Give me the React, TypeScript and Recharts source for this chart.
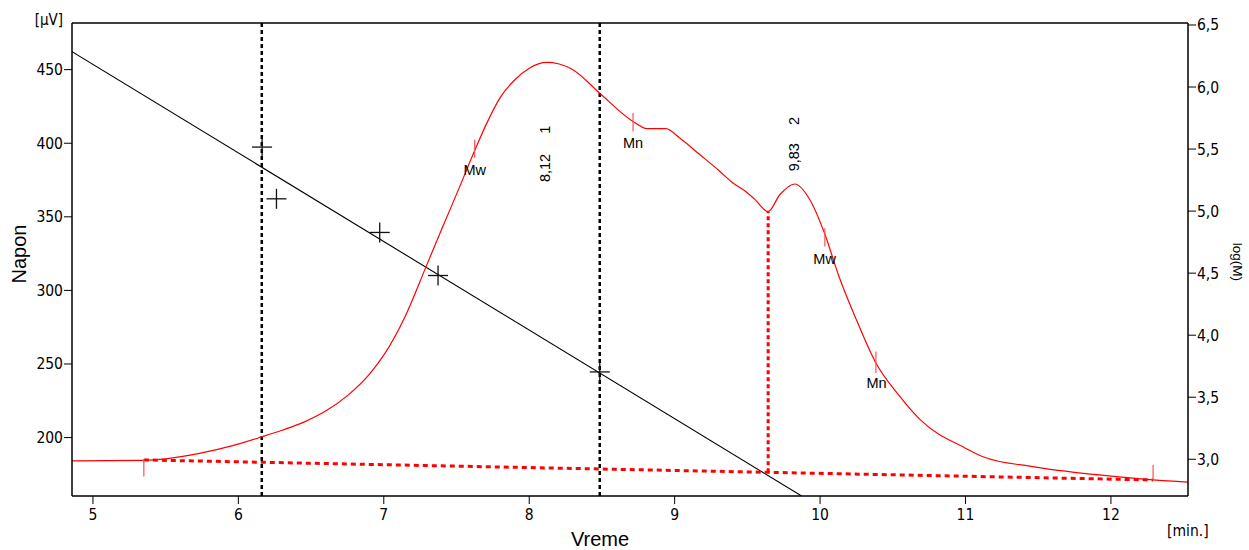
import React from 'react';
import {
  ComposedChart,
  Line,
  Scatter,
  XAxis,
  YAxis,
  ReferenceLine,
  Label,
} from 'recharts';

// axis ticks
const timeTicks = [5, 6, 7, 8, 9, 10, 11, 12];
const voltTicks = [200, 250, 300, 350, 400, 450];
const logTicks = [3, 3.5, 4, 4.5, 5, 5.5, 6, 6.5];

// detector signal [min.] -> [µV]
const signalTime = [
  4.856, 5.35, 5.5, 5.74, 5.96, 6.16, 6.3, 6.45, 6.6, 6.75, 6.9, 7.0, 7.15, 7.29, 7.4, 7.52,
  7.625, 7.71, 7.8, 7.9, 8.0, 8.12, 8.2, 8.3, 8.485, 8.714, 8.81, 8.94, 9.035, 9.17, 9.31, 9.4,
  9.47, 9.55, 9.643, 9.723, 9.826, 9.93, 10.03, 10.13, 10.25, 10.38, 10.54, 10.69, 11.0,
  11.12, 11.46, 11.92, 12.29, 12.53,
];
const signalVolt = [
  184.2, 184.5, 185.5, 189.4, 194.5, 200.5, 205, 210.5, 218, 228.5, 243, 256, 283, 316, 342,
  370, 395, 414, 431, 443, 451, 455, 454, 450, 434, 414.8, 409.9, 409.9, 403.5, 392.5, 381,
  373, 368.5, 362, 353.6, 365, 372.3, 361.6, 339, 309.5, 280, 251.4, 229, 212, 192.8, 187,
  180.3, 174.6, 171.2, 169.7,
];

// calibration points and fit (log M)
const calTime = [6.163, 6.262, 6.972, 7.373, 8.485];
const calLogM = [5.516, 5.099, 4.828, 4.481, 3.704];
const fitTime = [4.856, 9.873];
const fitLogM = [6.285, 2.704];

// baseline and integration limits
const baseTime = [5.35, 12.29];
const baseVolt = [184.8, 171.2];
const limitTimes = [6.161, 8.485];
const splitTime = 9.643;
const splitVolt = [176.4, 353.6];

// small red marks on the trace
const markTime = [5.35, 7.625, 8.714, 10.033, 10.384, 12.29];
const markTop = [185.2, 402.3, 420.5, 342.3, 258.5, 181.4];
const markBottom = [173.6, 390.1, 408, 329.8, 243.8, 171.2];

// Mw / Mn annotations
const momentText = ['Mw', 'Mn', 'Mw', 'Mn'];
const momentTime = [7.625, 8.714, 10.031, 10.388];
const momentVolt = [381.7, 399.9, 321.2, 237.3];

// peak annotations (rotated)
const peakText = ['8,12', '1', '9,83', '2'];
const peakTime = [8.11, 8.11, 9.823, 9.823];
const peakVolt = [383.2, 409.2, 390.5, 415.1];

const signalData = signalTime.map((t, i) => ({ t, v: signalVolt[i] }));
const calData = calTime.map((t, i) => ({ t, v: calLogM[i] }));
const momentData = momentTime.map((t, i) => ({ t, v: momentVolt[i], text: momentText[i] }));
const peakData = peakTime.map((t, i) => ({ t, v: peakVolt[i], text: peakText[i] }));

const tickFont = "'DejaVu Sans Condensed', 'DejaVu Sans', sans-serif";
const labelFont = "'Liberation Sans', Arial, sans-serif";
const tickStyle = { fill: '#000', fontSize: 15.5, fontFamily: tickFont };

const Cross = (p: any) => (
  <g stroke="#111" strokeWidth={1.3}>
    <line x1={p.cx - 10} x2={p.cx + 10} y1={p.cy} y2={p.cy} />
    <line x1={p.cx} x2={p.cx} y1={p.cy - 10} y2={p.cy + 10} />
  </g>
);

const MomentText = (p: any) => (
  <text
    x={p.cx}
    y={p.cy}
    textAnchor="middle"
    dominantBaseline="central"
    fontSize={14.5}
    fontFamily={labelFont}
    fill="#000"
  >
    {p.payload.text}
  </text>
);

const PeakText = (p: any) => (
  <text
    x={p.cx}
    y={p.cy}
    dy="0.35em"
    textAnchor="middle"
    fontSize={14.5}
    fontFamily={labelFont}
    fill="#000"
    transform={`rotate(-90, ${p.cx}, ${p.cy})`}
  >
    {p.payload.text}
  </text>
);

const App: React.FC = () => {
  return (
    <div style={{ position: 'absolute', left: 0, top: 0, background: '#fff' }}>
      <ComposedChart width={1249} height={550} margin={{ top: 22, right: 0, bottom: 0, left: 0 }}>
        <XAxis
          dataKey="t"
          type="number"
          domain={[4.856, 12.53]}
          ticks={timeTicks}
          allowDataOverflow
          height={54}
          tickSize={8}
          tickMargin={5}
          tick={tickStyle}
          axisLine={{ stroke: '#000', strokeWidth: 1.5 }}
          tickLine={{ stroke: '#000' }}
        >
          <Label
            content={() => (
              <g>
                <text x={600} y={546} textAnchor="middle" fontSize={20} fontFamily={labelFont} fill="#000">
                  Vreme
                </text>
                <text x={1167} y={536} fontSize={15.5} fontFamily={tickFont} fill="#000">
                  [min.]
                </text>
              </g>
            )}
          />
        </XAxis>
        <XAxis
          xAxisId="top"
          dataKey="t"
          type="number"
          orientation="top"
          domain={[4.856, 12.53]}
          ticks={timeTicks}
          allowDataOverflow
          height={1}
          tick={false}
          tickLine={false}
          axisLine={{ stroke: '#000', strokeWidth: 1.5 }}
        />
        <YAxis
          yAxisId="left"
          dataKey="v"
          type="number"
          domain={[160.3, 481.7]}
          ticks={voltTicks}
          allowDataOverflow
          width={72}
          tickSize={8}
          tickMargin={1}
          tick={tickStyle}
          axisLine={{ stroke: '#000', strokeWidth: 1.5 }}
          tickLine={{ stroke: '#000' }}
        >
          <Label
            content={() => (
              <g>
                <text
                  x={26}
                  y={254}
                  textAnchor="middle"
                  fontSize={20}
                  fontFamily={labelFont}
                  fill="#000"
                  transform="rotate(-90, 26, 254)"
                >
                  Napon
                </text>
                <text x={63} y={24.5} textAnchor="end" fontSize={15} fontFamily={tickFont} fill="#000">
                  [µV]
                </text>
              </g>
            )}
          />
        </YAxis>
        <YAxis
          yAxisId="right"
          dataKey="v"
          type="number"
          orientation="right"
          domain={[2.704, 6.516]}
          ticks={logTicks}
          allowDataOverflow
          width={61}
          tickSize={8}
          tickMargin={1}
          tick={tickStyle}
          tickFormatter={(v: number) => v.toFixed(1).replace('.', ',')}
          axisLine={{ stroke: '#000', strokeWidth: 1.5 }}
          tickLine={{ stroke: '#000' }}
        >
          <Label
            content={() => (
              <text
                x={1232.5}
                y={262}
                textAnchor="middle"
                fontSize={13.5}
                fontFamily={labelFont}
                fill="#000"
                transform="rotate(90, 1232.5, 262)"
              >
                log(M)
              </text>
            )}
          />
        </YAxis>

        {/* calibration fit */}
        <ReferenceLine
          yAxisId="right"
          segment={[
            { x: fitTime[0], y: fitLogM[0] },
            { x: fitTime[1], y: fitLogM[1] },
          ]}
          stroke="#000"
          strokeWidth={1.1}
          ifOverflow="hidden"
        />

        {/* integration limits */}
        {limitTimes.map((t) => (
          <ReferenceLine
            key={t}
            yAxisId="left"
            x={t}
            stroke="#000"
            strokeWidth={2.5}
            strokeDasharray="4 3"
          />
        ))}

        {/* baseline */}
        <ReferenceLine
          yAxisId="left"
          segment={[
            { x: baseTime[0], y: baseVolt[0] },
            { x: baseTime[1], y: baseVolt[1] },
          ]}
          stroke="#ff0000"
          strokeWidth={3}
          strokeDasharray="5 4"
          ifOverflow="hidden"
        />
        <ReferenceLine
          yAxisId="left"
          segment={[
            { x: splitTime, y: splitVolt[0] },
            { x: splitTime, y: splitVolt[1] },
          ]}
          stroke="#ff0000"
          strokeWidth={3}
          strokeDasharray="4 3"
          ifOverflow="hidden"
        />

        <Line
          yAxisId="left"
          data={signalData}
          dataKey="v"
          type="monotone"
          stroke="#ff0000"
          strokeWidth={1.2}
          dot={false}
          activeDot={false}
          isAnimationActive={false}
        />

        {markTime.map((t, i) => (
          <ReferenceLine
            key={`m${i}`}
            yAxisId="left"
            segment={[
              { x: t, y: markBottom[i] },
              { x: t, y: markTop[i] },
            ]}
            stroke="#ff5050"
            strokeWidth={1.2}
            ifOverflow="hidden"
          />
        ))}

        <Scatter yAxisId="right" data={calData} dataKey="v" shape={Cross} isAnimationActive={false} />
        <Scatter yAxisId="left" data={momentData} dataKey="v" shape={MomentText} isAnimationActive={false} />
        <Scatter yAxisId="left" data={peakData} dataKey="v" shape={PeakText} isAnimationActive={false} />
      </ComposedChart>
    </div>
  );
};

export default App;
